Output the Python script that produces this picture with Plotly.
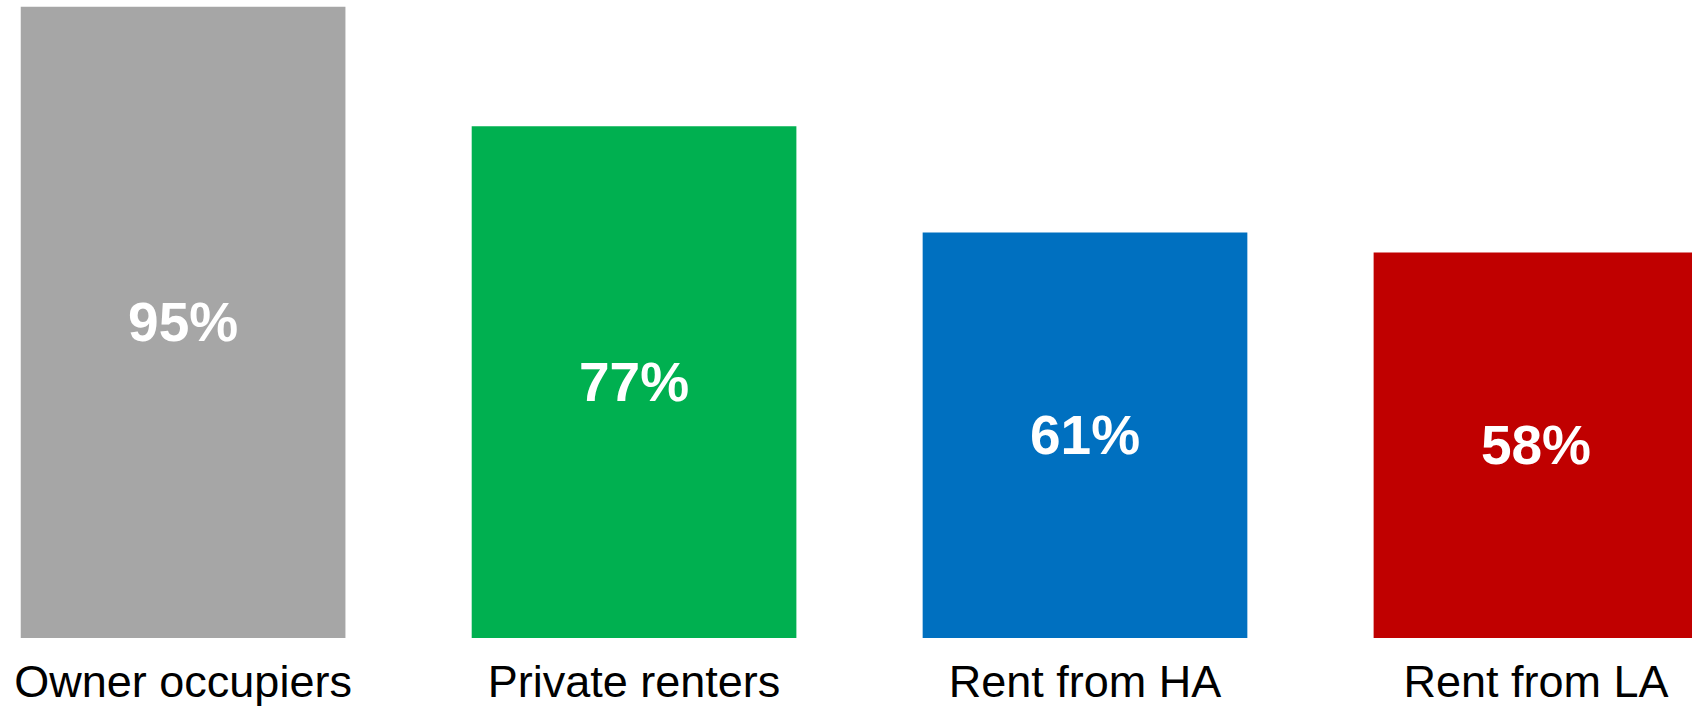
import plotly.graph_objects as go

categories = ["Owner occupiers", "Private renters", "Rent from HA", "Rent from LA"]
values = [95, 77, 61, 58]
colors = ["#A6A6A6", "#00B050", "#0070C0", "#C00000"]

fig = go.Figure(go.Bar(
    x=categories,
    y=values,
    marker=dict(color=colors, line=dict(width=0)),
    texttemplate="%{y}%",
    textposition="inside",
    insidetextanchor="middle",
    textangle=0,
    textfont=dict(family="Liberation Sans, Arial, sans-serif", size=55, color="white", weight="bold"),
    hoverinfo="skip",
))

fig.update_layout(
    width=1692,
    height=707,
    margin=dict(l=0, r=0, t=0, b=67),
    paper_bgcolor="white",
    plot_bgcolor="white",
    bargap=0.28,
    showlegend=False,
)
fig.update_xaxes(
    range=[-0.406, 3.346],
    showgrid=False,
    showline=False,
    zeroline=False,
    ticks="outside",
    ticklen=4,
    tickcolor="rgba(0,0,0,0)",
    tickfont=dict(family="Liberation Sans, Arial, sans-serif", size=45, color="black"),
)
fig.update_yaxes(
    range=[0, 96.0],
    visible=False,
    showgrid=False,
    zeroline=False,
)

fig.write_html(
    "out.html",
    config={"displayModeBar": False},
    post_script="document.body.style.margin='0';document.body.style.overflow='hidden';",
)
